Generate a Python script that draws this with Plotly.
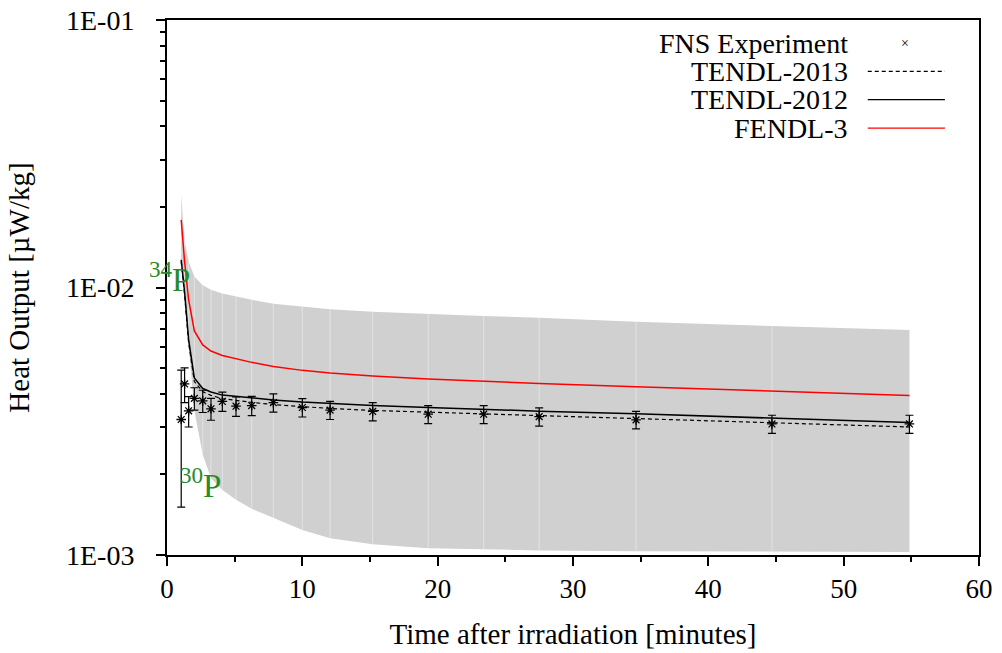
import plotly.graph_objects as go

# time after irradiation [minutes] (experiment and calculation share the grid)
T_MIN = [1.05, 1.3, 1.6, 2.02, 2.64, 3.25, 4.09, 5.1, 6.26, 7.86, 10.0,
         12.05, 15.2, 19.3, 23.4, 27.5, 34.66, 44.7, 54.86]

# FNS experiment, heat output [uW/kg] and its absolute error
EXP = [3.21e-3, 4.36e-3, 3.46e-3, 3.85e-3, 3.77e-3, 3.52e-3, 3.75e-3,
       3.60e-3, 3.62e-3, 3.71e-3, 3.56e-3, 3.48e-3, 3.44e-3, 3.36e-3,
       3.36e-3, 3.29e-3, 3.20e-3, 3.09e-3, 3.09e-3]
EXP_ERR = [1.70e-3, 0.65e-3, 0.45e-3, 0.37e-3, 0.36e-3, 0.33e-3, 0.31e-3,
           0.30e-3, 0.30e-3, 0.29e-3, 0.28e-3, 0.27e-3, 0.27e-3, 0.26e-3,
           0.26e-3, 0.26e-3, 0.24e-3, 0.24e-3, 0.24e-3]

FENDL3 = [1.79e-2, 1.25e-2, 8.98e-3, 6.88e-3, 6.10e-3, 5.79e-3, 5.57e-3,
          5.41e-3, 5.25e-3, 5.07e-3, 4.90e-3, 4.79e-3, 4.67e-3, 4.55e-3,
          4.45e-3, 4.38e-3, 4.26e-3, 4.10e-3, 3.95e-3]
TENDL2012 = [1.27e-2, 9.62e-3, 6.37e-3, 4.59e-3, 4.19e-3, 4.07e-3, 3.96e-3,
             3.91e-3, 3.86e-3, 3.80e-3, 3.73e-3, 3.68e-3, 3.62e-3, 3.56e-3,
             3.50e-3, 3.45e-3, 3.37e-3, 3.25e-3, 3.13e-3]
TENDL2013 = [1.25e-2, 9.40e-3, 6.20e-3, 4.45e-3, 4.08e-3, 3.95e-3, 3.84e-3,
             3.78e-3, 3.72e-3, 3.65e-3, 3.58e-3, 3.53e-3, 3.47e-3, 3.42e-3,
             3.37e-3, 3.31e-3, 3.22e-3, 3.11e-3, 3.01e-3]

# uncertainty band of the calculation
BAND_HI = [2.22e-2, 1.50e-2, 1.25e-2, 1.10e-2, 1.02e-2, 9.8e-3, 9.5e-3,
           9.26e-3, 9.0e-3, 8.7e-3, 8.48e-3, 8.29e-3, 8.12e-3, 7.96e-3,
           7.82e-3, 7.71e-3, 7.45e-3, 7.18e-3, 6.93e-3]
BAND_LO = [1.3e-2, 1.0e-2, 6.1e-3, 3.48e-3, 2.37e-3, 1.94e-3, 1.75e-3,
           1.61e-3, 1.49e-3, 1.375e-3, 1.24e-3, 1.155e-3, 1.097e-3, 1.06e-3,
           1.048e-3, 1.04e-3, 1.033e-3, 1.03e-3, 1.027e-3]

Y_TICKS = [1e-3, 1e-2, 1e-1]
Y_TICKTEXT = ["1E-03", "1E-02", "1E-01"]

LEGEND = [("FNS Experiment", None), ("TENDL-2013", "dash"),
          ("TENDL-2012", "black"), ("FENDL-3", "red")]

FONT = "Liberation Serif, Times New Roman, serif"
GREEN = "#2a8a2a"
BAND = "#d0d0d0"

fig = go.Figure()

# band: upper edge, then lower edge filled back to it
fig.add_trace(go.Scatter(x=T_MIN, y=BAND_HI, mode="lines",
                         line=dict(width=0, color=BAND), hoverinfo="skip"))
fig.add_trace(go.Scatter(x=T_MIN, y=BAND_LO, mode="lines", fill="tonexty",
                         fillcolor=BAND, line=dict(width=0, color=BAND),
                         hoverinfo="skip"))

# faint seams between band segments, as in the original rendering
seam_x, seam_y = [], []
for t, lo, hi in zip(T_MIN[1:-1], BAND_LO[1:-1], BAND_HI[1:-1]):
    seam_x += [t, t, None]
    seam_y += [lo, hi, None]
fig.add_trace(go.Scatter(x=seam_x, y=seam_y, mode="lines",
                         line=dict(width=1, color="rgba(255,255,255,0.4)"),
                         hoverinfo="skip"))

fig.add_trace(go.Scatter(x=T_MIN, y=FENDL3, mode="lines", name="FENDL-3",
                         line=dict(color="#ff0000", width=1.5)))
fig.add_trace(go.Scatter(x=T_MIN, y=TENDL2012, mode="lines", name="TENDL-2012",
                         line=dict(color="black", width=1.5)))
fig.add_trace(go.Scatter(x=T_MIN, y=TENDL2013, mode="lines", name="TENDL-2013",
                         line=dict(color="black", width=1.2, dash="4px,3px")))
fig.add_trace(go.Scatter(
    x=T_MIN, y=EXP, mode="markers", name="FNS Experiment",
    marker=dict(symbol="asterisk-open", size=8, color="black",
                line=dict(width=1.3, color="black")),
    error_y=dict(type="data", array=EXP_ERR, color="black", thickness=1.2,
                 width=4),
))

minor_vals = [k * 10 ** e for e in (-3, -2) for k in range(2, 10)]

fig.update_layout(
    width=1002, height=653,
    margin=dict(l=167, r=23, t=20, b=98),
    paper_bgcolor="white", plot_bgcolor="white",
    font=dict(family=FONT, size=29, color="black"),
    showlegend=False,
    xaxis=dict(
        range=[0, 60], dtick=10, tick0=0, showgrid=False, zeroline=False,
        showline=True, linecolor="black", linewidth=2, mirror=True,
        ticks="outside", ticklen=9, tickwidth=2, tickcolor="black",
        minor=dict(dtick=5, ticks="outside", ticklen=5, tickwidth=2,
                   tickcolor="black", showgrid=False),
        tickfont=dict(size=27), automargin=False,
        title=dict(text="Time after irradiation [minutes]", standoff=20,
                   font=dict(size=29)),
    ),
    yaxis=dict(
        type="log", range=[-3, -1], tickmode="array", tickvals=Y_TICKS,
        ticktext=Y_TICKTEXT, showgrid=False, zeroline=False,
        showline=True, linecolor="black", linewidth=2, mirror=True,
        ticks="outside", ticklen=9, tickwidth=2, tickcolor="black",
        ticklabelstandoff=16, ticklabeloverflow="allow",
        minor=dict(tickmode="array", tickvals=minor_vals, ticks="outside",
                   ticklen=5, tickwidth=2, tickcolor="black", showgrid=False),
        tickfont=dict(size=28), automargin=False,
        title=dict(text="Heat Output [\u00b5W/kg]", standoff=28,
                   font=dict(size=29)),
    ),
)

# isotope labels
fig.add_annotation(x=0.2, y=-1.96, xref="x", yref="y", showarrow=False,
                   text="<sup>34</sup>P", font=dict(color=GREEN, size=33))
fig.add_annotation(x=2.45, y=-2.73, xref="x", yref="y", showarrow=False,
                   text="<sup>30</sup>P", font=dict(color=GREEN, size=33))

# legend, gnuplot style: text on the left, sample on the right
row_y = [0.957, 0.904, 0.851, 0.798]
for (name, style), yy in zip(LEGEND, row_y):
    fig.add_annotation(x=0.841, y=yy, xref="paper", yref="paper",
                       xanchor="right", yanchor="middle", showarrow=False,
                       text=name, font=dict(size=28))
    if style is None:
        fig.add_annotation(x=0.909, y=yy, xref="paper", yref="paper",
                           xanchor="center", yanchor="middle", showarrow=False,
                           text="\u00d7", font=dict(size=14))
    else:
        fig.add_shape(type="line", xref="paper", yref="paper",
                      x0=0.863, x1=0.958, y0=yy, y1=yy,
                      line=dict(color="red" if style == "red" else "black",
                                width=1.3,
                                dash="4px,3px" if style == "dash" else "solid"))

# drop the page's default body margin so the figure sits at the window origin
fig.write_html("out.html", config={"displayModeBar": False},
               post_script="document.body.style.margin='0px';")
